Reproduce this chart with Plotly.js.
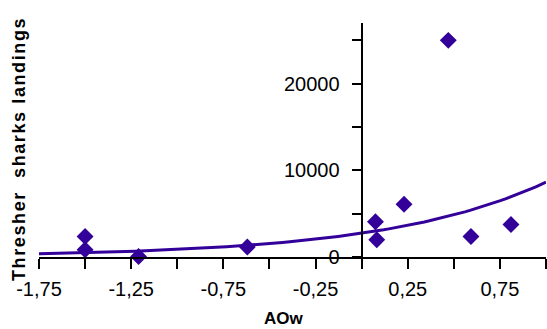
<!DOCTYPE html>
<html>
<head>
<meta charset="utf-8">
<script src="https://cdn.plot.ly/plotly-3.0.1.min.js"></script>
<style>html,body{margin:0;padding:0;background:#fff;}#chart{width:547px;height:329px;}</style>
</head>
<body>
<div id="chart"></div>
<script>
// Data
const aow = [-1.5, -1.5, -1.21, -0.62, 0.075, 0.082, 0.23, 0.47, 0.593, 0.81];
const landings = [2370, 840, 50, 1150, 4060, 1990, 6090, 25000, 2370, 3750];

const xTickVals = [-1.75, -1.25, -0.75, -0.25, 0.25, 0.75];
const xTickText = ['-1,75', '-1,25', '-0,75', '-0,25', '0,25', '0,75'];
const yTickVals = [0, 10000, 20000];
const yTickText = ['0', '10000', '20000'];

// Exponential trendline (least squares on ln y), as a spreadsheet trendline does
function expFit(xs, ys) {
  const n = xs.length;
  const ly = ys.map(v => Math.log(v));
  const mx = xs.reduce((a, b) => a + b, 0) / n;
  const my = ly.reduce((a, b) => a + b, 0) / n;
  let sxx = 0, sxy = 0;
  for (let i = 0; i < n; i++) { sxx += (xs[i] - mx) ** 2; sxy += (xs[i] - mx) * (ly[i] - my); }
  const b = sxy / sxx;
  const a = Math.exp(my - b * mx);
  return {a, b};
}
const fit = expFit(aow, landings);
const xMin = -1.75, xMax = 1.0;
const trendX = [], trendY = [];
for (let i = 0; i <= 100; i++) {
  const x = xMin + (xMax - xMin) * i / 100;
  trendX.push(x);
  trendY.push(fit.a * Math.exp(fit.b * x));
}

const col = '#330099';
const font = 'Liberation Sans, Arial, sans-serif';

const data = [
  {x: trendX, y: trendY, mode: 'lines', line: {color: col, width: 3}, hoverinfo: 'skip', cliponaxis: true},
  {x: aow, y: landings, mode: 'markers', marker: {symbol: 'diamond', size: 13, color: col}, cliponaxis: false}
];

const layout = {
  width: 547, height: 329,
  margin: {l: 39, r: 1, t: 23, b: 72, autoexpand: false},
  paper_bgcolor: '#fff', plot_bgcolor: '#fff',
  showlegend: false,
  font: {family: font, size: 20, color: '#000'},
  xaxis: {
    range: [xMin, xMax], showgrid: false, zeroline: false,
    showline: true, linecolor: '#000', linewidth: 2,
    ticks: 'outside', ticklen: 10, tickwidth: 2, tickcolor: '#000',
    tickmode: 'array', tickvals: xTickVals, ticktext: xTickText,
    minor: {tickmode: 'linear', tick0: -1.75, dtick: 0.25, ticks: 'outside', ticklen: 10, tickwidth: 2, tickcolor: '#000', showgrid: false},
    tickfont: {family: font, size: 20, color: '#000'},
    ticklabelstandoff: 3
  },
  yaxis: {
    range: [0, 27000], showgrid: false, zeroline: false,
    anchor: 'free', position: 1.75 / 2.75,
    showline: true, linecolor: '#000', linewidth: 2,
    ticks: 'outside', ticklen: 9, tickwidth: 2, tickcolor: '#000',
    tickmode: 'array', tickvals: yTickVals, ticktext: yTickText,
    minor: {tickmode: 'linear', tick0: 0, dtick: 5000, ticks: 'outside', ticklen: 9, tickwidth: 2, tickcolor: '#000', showgrid: false},
    tickfont: {family: font, size: 20, color: '#000'},
    ticklabelstandoff: 8
  },
  annotations: [
    {text: '<b>AOw</b>', xref: 'paper', yref: 'paper', x: (284 - 39) / 507, y: (257.3 - 318.5) / 234.6,
     xanchor: 'center', yanchor: 'middle', showarrow: false, font: {family: font, size: 17, color: '#000'}},
    {text: '<b><span style="letter-spacing:1.6px">Thresher  sharks landings</span></b>', xref: 'paper', yref: 'paper',
     x: (19 - 39) / 507, y: (257.3 - 149) / 234.6, textangle: -90,
     xanchor: 'center', yanchor: 'middle', showarrow: false, font: {family: font, size: 18, color: '#000'}}
  ]
};

Plotly.newPlot('chart', data, layout, {staticPlot: true, displayModeBar: false});
</script>
</body>
</html>
